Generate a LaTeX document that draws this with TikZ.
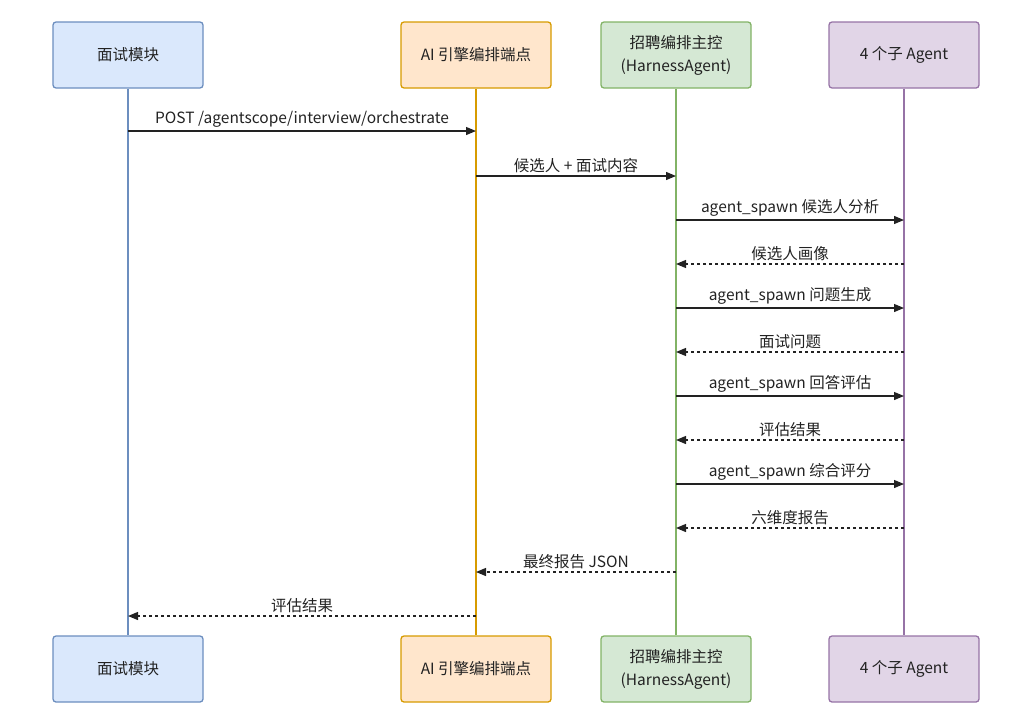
\documentclass[tikz,border=0pt]{standalone}
\usepackage{fontspec}
\setmainfont{Noto Sans CJK SC}
\usetikzlibrary{arrows.meta}
\definecolor{bfill}{HTML}{DAE8FC}\definecolor{bline}{HTML}{6C8EBF}
\definecolor{ofill}{HTML}{FFE6CC}\definecolor{oline}{HTML}{D79B00}
\definecolor{gfill}{HTML}{D5E8D4}\definecolor{gline}{HTML}{82B366}
\definecolor{pfill}{HTML}{E1D5E7}\definecolor{pline}{HTML}{9673A6}
\definecolor{txt}{HTML}{222222}
\tikzset{
  actor/.style={draw, line width=1.3pt, rounded corners=3pt, minimum width=150pt, minimum height=66pt, align=center, text=txt, font=\fontsize{15.5}{23}\selectfont, inner sep=0pt},
  lifeline/.style={line width=1.3pt},
  msg/.style={draw=txt, line width=1.2pt, -{Triangle[length=10pt,width=8pt]}},
  ret/.style={msg, dash pattern=on 3pt off 3pt},
  lbl/.style={above=2pt, text=txt, font=\fontsize{15.5}{18}\selectfont, inner sep=1pt}
}
\begin{document}
\begin{tikzpicture}[x=1pt,y=-1pt]
\useasboundingbox (0,0) rectangle (1015,728);
\node[actor, fill=bfill, draw=bline] (a1t) at (128,55) {面试模块};
\node[actor, fill=ofill, draw=oline] (a2t) at (476,55) {AI 引擎编排端点};
\node[actor, fill=gfill, draw=gline] (a3t) at (676,55) {招聘编排主控\\(HarnessAgent)};
\node[actor, fill=pfill, draw=pline] (a4t) at (904,55) {4 个子 Agent};
\node[actor, fill=bfill, draw=bline] (a1b) at (128,669) {面试模块};
\node[actor, fill=ofill, draw=oline] (a2b) at (476,669) {AI 引擎编排端点};
\node[actor, fill=gfill, draw=gline] (a3b) at (676,669) {招聘编排主控\\(HarnessAgent)};
\node[actor, fill=pfill, draw=pline] (a4b) at (904,669) {4 个子 Agent};
\draw[lifeline, bline] (a1t.south) -- (a1b.north);
\draw[lifeline, oline] (a2t.south) -- (a2b.north);
\draw[lifeline, gline] (a3t.south) -- (a3b.north);
\draw[lifeline, pline] (a4t.south) -- (a4b.north);
\draw[msg] (a1t |- 0,131) -- node[lbl]{POST /agentscope/interview/orchestrate} (a2t |- 0,131);
\draw[msg] (a2t |- 0,176) -- node[lbl]{候选人 + 面试内容} (a3t |- 0,176);
\draw[msg] (a3t |- 0,220) -- node[lbl]{agent\_spawn 候选人分析} (a4t |- 0,220);
\draw[ret] (a4t |- 0,264) -- node[lbl]{候选人画像} (a3t |- 0,264);
\draw[msg] (a3t |- 0,308) -- node[lbl]{agent\_spawn 问题生成} (a4t |- 0,308);
\draw[ret] (a4t |- 0,352) -- node[lbl]{面试问题} (a3t |- 0,352);
\draw[msg] (a3t |- 0,396) -- node[lbl]{agent\_spawn 回答评估} (a4t |- 0,396);
\draw[ret] (a4t |- 0,440) -- node[lbl]{评估结果} (a3t |- 0,440);
\draw[msg] (a3t |- 0,484) -- node[lbl]{agent\_spawn 综合评分} (a4t |- 0,484);
\draw[ret] (a4t |- 0,528) -- node[lbl]{六维度报告} (a3t |- 0,528);
\draw[ret] (a3t |- 0,572) -- node[lbl]{最终报告 JSON} (a2t |- 0,572);
\draw[ret] (a2t |- 0,616) -- node[lbl]{评估结果} (a1t |- 0,616);
\end{tikzpicture}
\end{document}
